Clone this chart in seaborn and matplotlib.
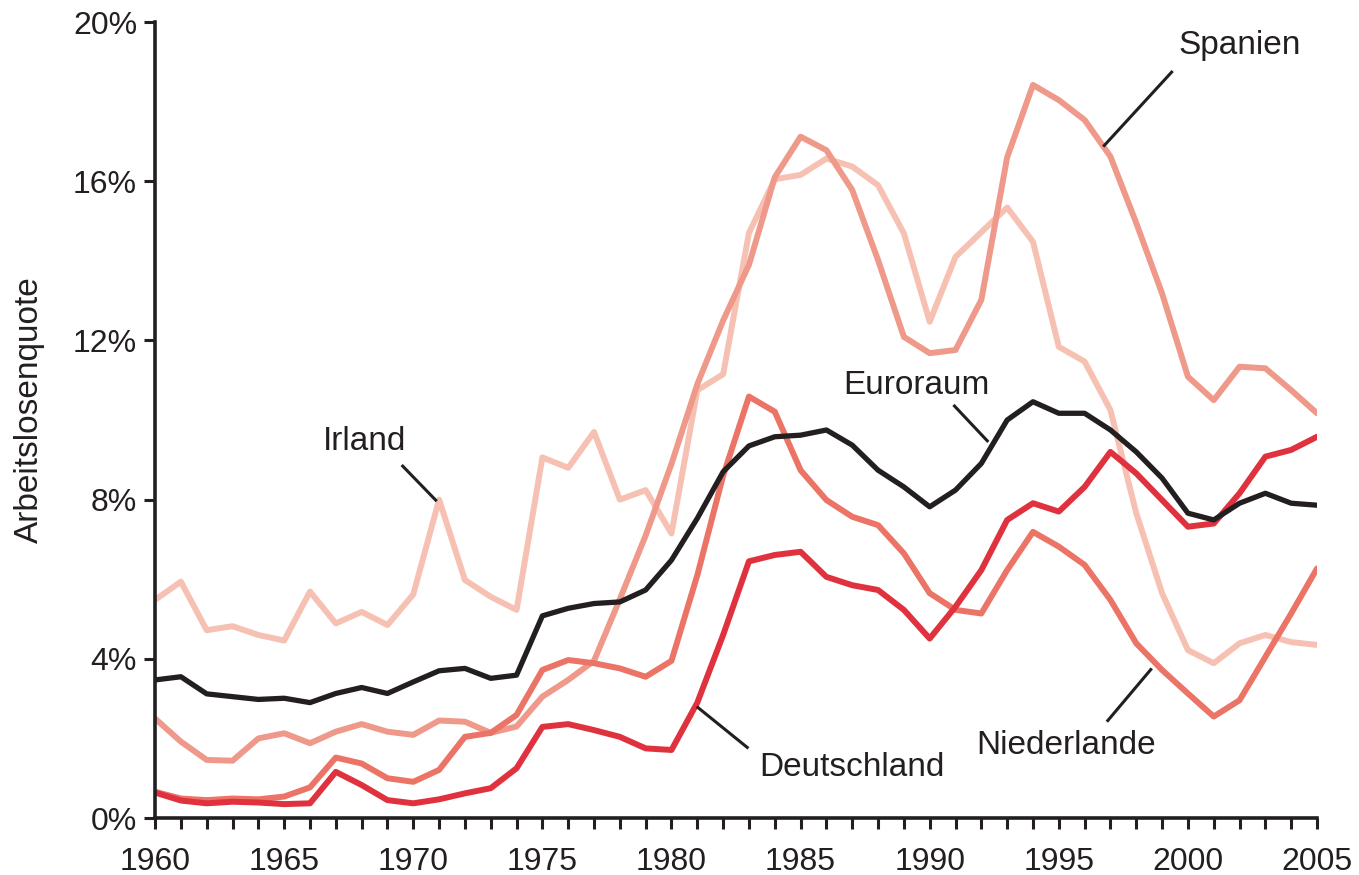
import numpy as np
import pandas as pd
import matplotlib
matplotlib.use("Agg")
import matplotlib.pyplot as plt
import seaborn as sns

# Jahre und Arbeitslosenquoten (in %)
years = list(range(1960, 2006))

irland = [5.48, 5.94, 4.72, 4.82, 4.60, 4.46, 5.69, 4.89, 5.18, 4.85,
          5.62, 8.00, 5.98, 5.56, 5.23, 9.06, 8.80, 9.70, 8.00, 8.24,
          7.15, 10.75, 11.15, 14.70, 16.05, 16.16, 16.57, 16.37, 15.90, 14.69,
          12.47, 14.10, 14.72, 15.34, 14.48, 11.84, 11.47, 10.25, 7.66, 5.65,
          4.22, 3.89, 4.39, 4.60, 4.42, 4.35]

spanien = [2.50, 1.92, 1.46, 1.44, 2.00, 2.13, 1.88, 2.17, 2.36, 2.17,
           2.09, 2.45, 2.42, 2.14, 2.30, 3.05, 3.47, 3.95, 5.50, 7.10,
           8.90, 10.90, 12.50, 13.90, 16.10, 17.12, 16.78, 15.78, 14.02, 12.09,
           11.68, 11.76, 13.02, 16.60, 18.42, 18.04, 17.54, 16.62, 14.95, 13.18,
           11.09, 10.50, 11.34, 11.30, 10.75, 10.17]

niederlande = [0.66, 0.49, 0.45, 0.49, 0.47, 0.54, 0.77, 1.52, 1.37, 1.00,
               0.91, 1.21, 2.04, 2.14, 2.59, 3.72, 3.97, 3.89, 3.76, 3.55,
               3.95, 6.10, 8.60, 10.59, 10.21, 8.74, 7.99, 7.57, 7.36, 6.65,
               5.65, 5.23, 5.14, 6.23, 7.19, 6.82, 6.36, 5.48, 4.39, 3.72,
               3.13, 2.55, 2.96, 4.05, 5.14, 6.27]

deutschland = [0.64, 0.44, 0.37, 0.41, 0.39, 0.35, 0.37, 1.16, 0.83, 0.45,
               0.37, 0.47, 0.62, 0.75, 1.25, 2.29, 2.36, 2.21, 2.04, 1.75,
               1.71, 2.90, 4.60, 6.45, 6.61, 6.69, 6.06, 5.85, 5.73, 5.23,
               4.51, 5.31, 6.23, 7.49, 7.91, 7.70, 8.32, 9.20, 8.66, 7.99,
               7.32, 7.40, 8.16, 9.08, 9.25, 9.58]

euroraum = [3.47, 3.55, 3.12, 3.05, 2.98, 3.01, 2.90, 3.13, 3.28, 3.13,
            3.42, 3.70, 3.76, 3.51, 3.59, 5.08, 5.27, 5.39, 5.43, 5.73,
            6.48, 7.53, 8.70, 9.35, 9.58, 9.62, 9.75, 9.37, 8.74, 8.32,
            7.82, 8.24, 8.91, 10.00, 10.46, 10.17, 10.17, 9.75, 9.20, 8.54,
            7.66, 7.49, 7.91, 8.16, 7.91, 7.86]

series = {
    "Irland": irland,
    "Spanien": spanien,
    "Niederlande": niederlande,
    "Deutschland": deutschland,
    "Euroraum": euroraum,
}
palette = {
    "Irland": "#f6c1b3",
    "Spanien": "#ef998a",
    "Niederlande": "#eb7467",
    "Deutschland": "#e0323e",
    "Euroraum": "#231f20",
}

# Beschriftungen: Text, Textposition, Anfang und Ende der Hinweislinie
labels = [
    ("Spanien", (2002.0, 19.42), (1999.41, 18.77), (1996.72, 16.87)),
    ("Euroraum", (1989.5, 10.88), (1990.92, 10.38), (1992.27, 9.45)),
    ("Irland", (1968.1, 9.45), (1969.55, 8.87), (1970.91, 7.96)),
    ("Deutschland", (1987.0, 1.27), (1982.98, 1.75), (1980.98, 2.80)),
    ("Niederlande", (1995.3, 1.83), (1996.86, 2.42), (1998.6, 3.76)),
]

df = pd.DataFrame([
    {"Jahr": y, "Land": name, "Quote": v}
    for name, vals in series.items()
    for y, v in zip(years, vals)
])

sns.set_theme(style="white")
plt.rcParams["font.family"] = ["Liberation Sans", "DejaVu Sans"]

TXT = "#231f20"

fig = plt.figure(figsize=(13.59, 8.75), dpi=100)
ax = fig.add_axes([0.1141, 0.0651, 0.855, 0.9097])

sns.lineplot(data=df, x="Jahr", y="Quote", hue="Land",
             hue_order=list(series.keys()), palette=palette,
             linewidth=4.3, legend=False, ax=ax)
ax.lines[-1].set_linewidth(3.8)
for ln in ax.lines:
    ln.set_solid_joinstyle("round")

# Hinweislinien und Länderbeschriftung
for text, pos, p0, p1 in labels:
    ax.plot([p0[0], p1[0]], [p0[1], p1[1]], color=TXT, lw=2.2,
            solid_capstyle="butt")
    ax.text(pos[0], pos[1], text, ha="center", va="center",
            fontsize=24, color=TXT)

ax.set_xlim(1960, 2005)
ax.set_ylim(0, 20)

ax.set_xticks(years)
ax.set_xticklabels([str(y) if y % 5 == 0 else "" for y in years])
yt = [0, 4, 8, 12, 16, 20]
ax.set_yticks(yt)
ax.set_yticklabels([f"{v}%" for v in yt])

ax.tick_params(axis="both", which="major", length=8, width=2.2,
               color=TXT, labelcolor=TXT, labelsize=23)
ax.tick_params(axis="x", pad=13, direction="out", bottom=True)
ax.tick_params(axis="y", pad=5, direction="out", left=True)

for s in ["top", "right"]:
    ax.spines[s].set_visible(False)
for s in ["left", "bottom"]:
    ax.spines[s].set_color(TXT)
    ax.spines[s].set_linewidth(2.6)

ax.set_xlabel("")
ax.set_ylabel("Arbeitslosenquote", fontsize=24, color=TXT)
ax.yaxis.label.set_va("center")
ax.yaxis.set_label_coords(-0.108, 0.513)
ax.grid(False)

fig.savefig("out.png", dpi=100)
